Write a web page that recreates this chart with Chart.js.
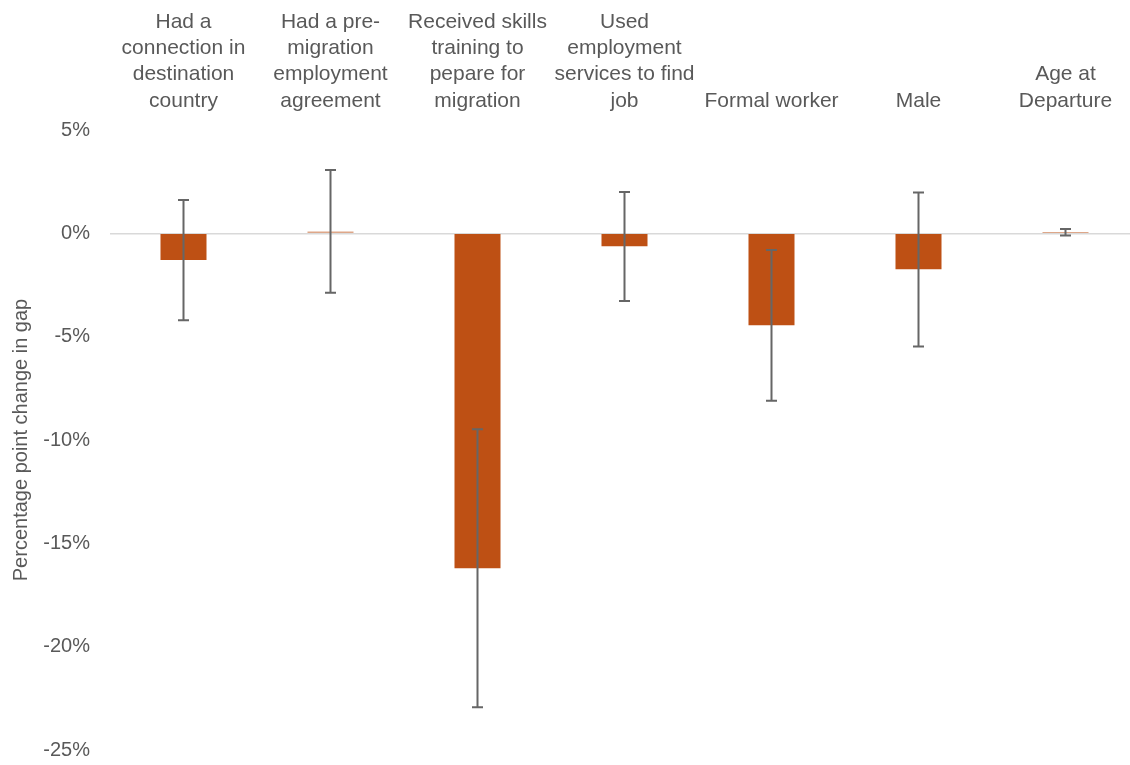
<!DOCTYPE html>
<html>
<head>
<meta charset="utf-8">
<script src="https://cdn.jsdelivr.net/npm/chart.js@4.4.1/dist/chart.umd.min.js"></script>
<style>
  html, body { margin: 0; padding: 0; background: #fff; overflow: hidden; }
  #wrap { width: 1140px; height: 765px; }
</style>
</head>
<body>
<div id="wrap"><canvas id="gapChart" width="1140" height="765"></canvas></div>
<script>
  const categories = [
    ['Had a', 'connection in', 'destination', 'country'],
    ['Had a pre-', 'migration', 'employment', 'agreement'],
    ['Received skills', 'training to', 'pepare for', 'migration'],
    ['Used', 'employment', 'services to find', 'job'],
    'Formal worker',
    'Male',
    ['Age at', 'Departure']
  ];
  // point estimates and confidence bounds, in percentage points
  const estimates = [-1.29, 0.08, -16.21, -0.63, -4.45, -1.74, 0.06];
  const errLow = [-4.21, -2.87, -22.93, -3.28, -8.10, -5.47, -0.10];
  const errHigh = [1.61, 3.06, -9.48, 2.00, -0.81, 1.98, 0.21];
  const yTicks = [5, 0, -5, -10, -15, -20, -25];

  const textColor = '#595959';
  const fontFamily = 'Liberation Sans, Arial, sans-serif';

  const errorBars = {
    id: 'errorBars',
    afterDatasetsDraw(chart) {
      const ctx = chart.ctx;
      const y = chart.scales.y;
      const meta = chart.getDatasetMeta(0);
      ctx.save();
      ctx.strokeStyle = '#666666';
      ctx.lineWidth = 2;
      meta.data.forEach((bar, i) => {
        const top = y.getPixelForValue(errHigh[i]);
        const bot = y.getPixelForValue(errLow[i]);
        ctx.beginPath();
        ctx.moveTo(bar.x, top);
        ctx.lineTo(bar.x, bot);
        ctx.moveTo(bar.x - 5.5, top);
        ctx.lineTo(bar.x + 5.5, top);
        ctx.moveTo(bar.x - 5.5, bot);
        ctx.lineTo(bar.x + 5.5, bot);
        ctx.stroke();
      });
      ctx.restore();
    }
  };

  const yTitle = {
    id: 'yTitle',
    afterDraw(chart) {
      const ctx = chart.ctx;
      const area = chart.chartArea;
      ctx.save();
      ctx.translate(21, (area.top + area.bottom) / 2);
      ctx.rotate(-Math.PI / 2);
      ctx.fillStyle = textColor;
      ctx.font = '20px ' + fontFamily;
      ctx.textAlign = 'center';
      ctx.textBaseline = 'middle';
      ctx.fillText('Percentage point change in gap', 0, 0);
      ctx.restore();
    }
  };

  new Chart(document.getElementById('gapChart'), {
    type: 'bar',
    data: {
      labels: categories,
      datasets: [{
        data: estimates,
        backgroundColor: '#BE5014',
        borderWidth: 0,
        categoryPercentage: 1,
        barPercentage: 0.313
      }]
    },
    options: {
      responsive: false,
      animation: false,
      layout: { padding: { right: 1, bottom: 15 } },
      plugins: {
        legend: { display: false },
        tooltip: { enabled: false }
      },
      scales: {
        x: {
          position: 'top',
          grid: { display: false, drawTicks: false },
          border: { display: false },
          afterFit: s => { s.height = 130; s.paddingLeft = 0; s.paddingRight = 0; },
          ticks: {
            color: textColor,
            font: { family: fontFamily, size: 21, lineHeight: 1.25 },
            padding: 16,
            maxRotation: 0,
            autoSkip: false
          }
        },
        y: {
          min: -25,
          max: 5,
          afterFit: s => { s.width = 110; s.paddingTop = 0; s.paddingBottom = 0; },
          afterBuildTicks: s => { s.ticks = yTicks.map(v => ({ value: v })); },
          grid: {
            drawTicks: false,
            color: c => (c.tick && c.tick.value === 0 ? '#D9D9D9' : 'rgba(0,0,0,0)'),
            lineWidth: 1.5
          },
          border: { display: false },
          ticks: {
            color: textColor,
            font: { family: fontFamily, size: 20 },
            padding: 20,
            callback: v => v + '%'
          }
        }
      }
    },
    plugins: [errorBars, yTitle]
  });
</script>
</body>
</html>
